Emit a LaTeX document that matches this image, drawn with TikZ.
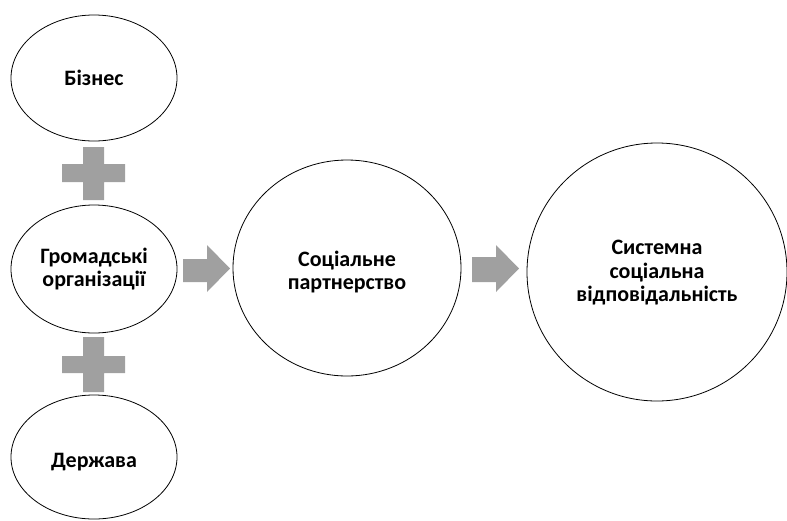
\documentclass[tikz,border=0pt]{standalone}
\usepackage{fontspec}
\setmainfont{Carlito}
\begin{document}
\begin{tikzpicture}[x=1pt,y=-1pt,
  oval/.style={draw=black,line width=0.8pt,fill=white},
  lbl/.style={font=\bfseries\fontsize{22}{23.5}\selectfont,align=center,text=black},
  blockfill/.style={fill={rgb,255:red,160;green,160;blue,160},draw=none}]
\useasboundingbox (0,0) rectangle (787,520);
% ellipses
\draw[oval] (94,78) ellipse [x radius=83,y radius=63];
\node[lbl] (biz) at (94,78) {Бізнес};
\draw[oval] (94,269) ellipse [x radius=83,y radius=64];
\node[lbl] (gro) at (94,269) {Громадські\\організації};
\draw[oval] (94,457) ellipse [x radius=83,y radius=62];
\node[lbl] (der) at (94,462) {Держава};
\draw[oval] (347,268) ellipse [x radius=114,y radius=108];
\node[lbl] (soc) at (347,272) {Соціальне\\партнерство};
\draw[oval] (657,272) ellipse [x radius=130,y radius=129];
\node[lbl] (sys) at (657,273) {Системна\\соціальна\\відповідальність};
% plus signs
\fill[blockfill] (83,147) -- (104,147) -- (104,164) -- (125,164) -- (125,182) -- (104,182) -- (104,200) -- (83,200) -- (83,182) -- (62,182) -- (62,164) -- (83,164) -- cycle;
\fill[blockfill] (83,337) -- (104,337) -- (104,356) -- (125,356) -- (125,373) -- (104,373) -- (104,392) -- (83,392) -- (83,373) -- (62,373) -- (62,356) -- (83,356) -- cycle;
% block arrows
\fill[blockfill] (183,259) -- (207,259) -- (207,245) -- (230,268.5) -- (207,292) -- (207,282) -- (183,282) -- cycle;
\fill[blockfill] (472,257) -- (496,257) -- (496,245) -- (519,268.5) -- (496,292) -- (496,282) -- (472,282) -- cycle;
\end{tikzpicture}
\end{document}
